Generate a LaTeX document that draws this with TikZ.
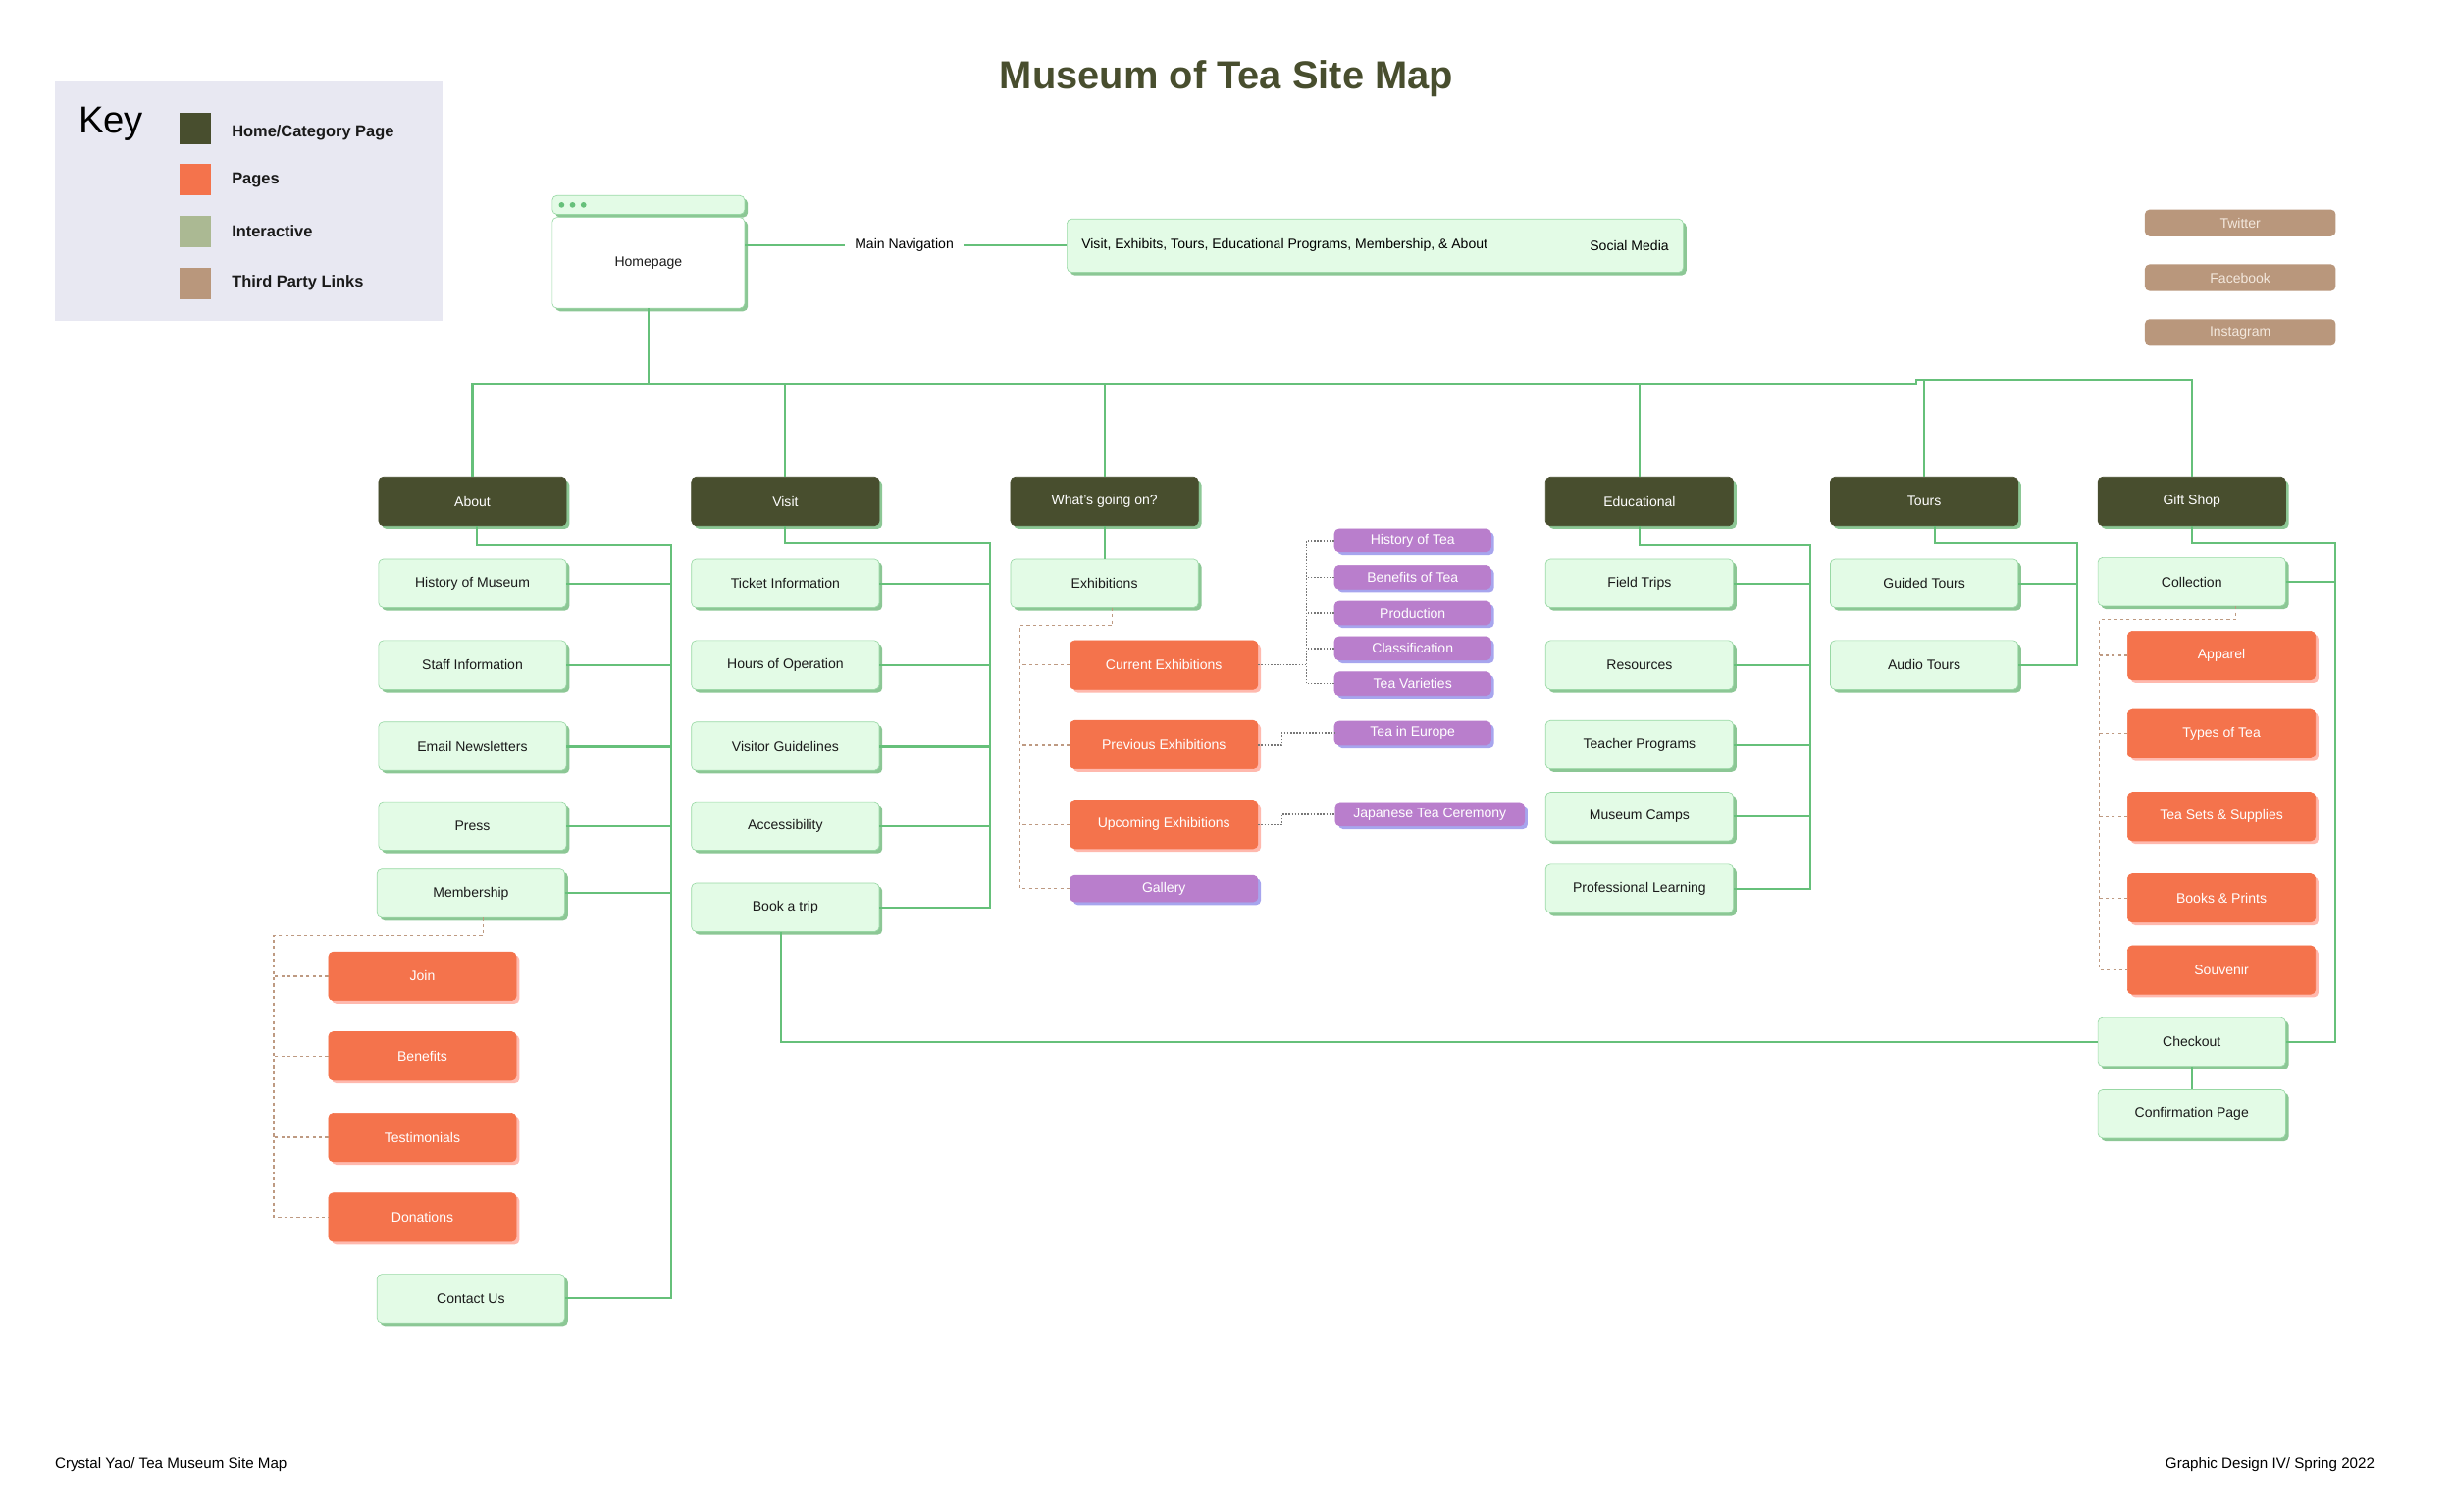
\documentclass[tikz,border=0pt]{standalone}
\usepackage{fontspec}
\setmainfont{Liberation Sans}
\usetikzlibrary{shadows}

\definecolor{catolive}{HTML}{484E2E}
\definecolor{boxfill}{HTML}{E3FBE6}
\definecolor{boxline}{HTML}{98D8A4}
\definecolor{boxshade}{HTML}{8CC795}
\definecolor{subfill}{HTML}{F4734C}
\definecolor{subshade}{HTML}{FFB9AE}
\definecolor{actfill}{HTML}{B97ECC}
\definecolor{actshade}{HTML}{A7A5EE}
\definecolor{extfill}{HTML}{B9977C}
\definecolor{exttext}{HTML}{F3E8DD}
\definecolor{linkgreen}{HTML}{66C07A}
\definecolor{dashbrown}{HTML}{BE9A82}
\definecolor{dotgray}{HTML}{777777}
\definecolor{keybg}{HTML}{E8E8F2}
\definecolor{keyact}{HTML}{ABB993}
\definecolor{inktext}{HTML}{1A1A1A}

\begin{document}
\begin{tikzpicture}[x=1pt,y=-1pt,
  boxbase/.style={rounded corners=3pt,minimum width=120,minimum height=31,inner sep=2pt,
    font=\fontsize{8.8}{10}\selectfont,text=inktext},
  pagebox/.style={boxbase,draw=boxline,fill=boxfill,
    general shadow={fill=boxshade,shadow xshift=2pt,shadow yshift=-2pt}},
  catbox/.style={boxbase,draw=catolive,fill=catolive,text=white,
    general shadow={fill=boxshade,shadow xshift=2pt,shadow yshift=-2pt}},
  subbox/.style={boxbase,draw=subfill,fill=subfill,text=white,
    general shadow={fill=subshade,shadow xshift=2pt,shadow yshift=-2pt}},
  actbox/.style={boxbase,minimum width=100,minimum height=15,draw=actfill,fill=actfill,text=white,
    general shadow={fill=actshade,shadow xshift=2pt,shadow yshift=-2pt}},
  extbox/.style={boxbase,minimum width=122,minimum height=17,fill=extfill,text=exttext},
  keyswatch/.style={minimum width=20,minimum height=20,inner sep=0pt},
  keylabel/.style={anchor=west,inner sep=0pt,font=\bfseries\fontsize{10.3}{12}\selectfont,text=inktext},
  link/.style={draw=linkgreen,line width=1.3pt},
  sublink/.style={draw=dashbrown,line width=0.8pt,dash pattern=on 2pt off 2pt},
  actlink/.style={draw=dotgray,line width=0.8pt,dash pattern=on 1pt off 1pt}]
  \useasboundingbox (0,0) rectangle (1568,966);

  \node[font=\bfseries\fontsize{25}{30}\selectfont,text=catolive] (title) at (784,50) {Museum of Tea Site Map};

  \fill[keybg] (35,52) rectangle (283,205);
  \node[anchor=west,inner sep=0pt,font=\fontsize{24}{28}\selectfont] (keytitle) at (50,79) {Key};
  \node[keyswatch,fill=catolive] (keycat) at (125,82) {};
  \node[keyswatch,fill=subfill] (keysub) at (125,115) {};
  \node[keyswatch,fill=keyact] (keyact) at (125,148) {};
  \node[keyswatch,fill=extfill] (keyext) at (125,181) {};
  \node[keylabel] (keycatlabel) at (148,85) {Home/Category Page};
  \node[keylabel] (keysublabel) at (148,115) {Pages};
  \node[keylabel] (keyactlabel) at (148,148) {Interactive};
  \node[keylabel] (keyextlabel) at (148,181) {Third Party Links};

  \node[boxbase,minimum width=123,minimum height=12,draw=boxline,fill=boxfill,
    general shadow={fill=boxshade,shadow xshift=2pt,shadow yshift=-2pt}] (homebar) at (414.5,131) {};
  \fill[linkgreen] (359,131) circle (1.8);
  \fill[linkgreen] (366,131) circle (1.8);
  \fill[linkgreen] (373,131) circle (1.8);
  \node[pagebox,minimum width=123,minimum height=58,fill=white] (home) at (414.5,168) {Homepage};

  \node[font=\fontsize{8.8}{10}\selectfont,inner sep=6pt] (mainnav) at (578,157) {Main Navigation};
  \node[pagebox,minimum width=394,minimum height=34] (nav) at (879,157) {};
  \node[anchor=west,font=\fontsize{8.8}{10}\selectfont] (navtext) at ([xshift=6pt]nav.west)
       {Visit, Exhibits, Tours, Educational Programs, Membership, \& About};
  \node[anchor=east,font=\fontsize{8.8}{10}\selectfont] (social) at ([xshift=-6pt]nav.east) {Social Media};
  \draw[link] (mainnav -| home.east) -- (mainnav.west);
  \draw[link] (mainnav.east) -- (nav.west);

  \node[extbox] (twitter) at (1432,142.5) {Twitter};
  \node[extbox] (facebook) at (1432,177.5) {Facebook};
  \node[extbox] (instagram) at (1432,212.5) {Instagram};

  \node[catbox] (about) at (302,320.5) {About};
  \node[catbox] (visit) at (502,320.5) {Visit};
  \node[catbox] (whats) at (706,320.5) {What’s going on?};
  \node[catbox] (edu) at (1048,320.5) {Educational};
  \node[catbox] (tours) at (1230,320.5) {Tours};
  \node[catbox] (gift) at (1401,320.5) {Gift Shop};

  \coordinate (bus) at (414.5,245);
  \coordinate (busstep) at (1225,243);
  \draw[link] (home.south) -- (bus);
  \draw[link] (about.north) |- (bus);
  \draw[link] (visit.north) -- (visit.north |- bus);
  \draw[link] (whats.north) -- (whats.north |- bus);
  \draw[link] (bus) -- (bus -| busstep) -- (busstep) -| (gift.north);
  \draw[link] (edu.north) -- (edu.north |- bus);
  \draw[link] (tours.north) -- (tours.north |- busstep);

  \node[pagebox] (amuseum) at (302,373) {History of Museum};
  \node[pagebox] (astaff) at (302,425) {Staff Information};
  \node[pagebox] (anews) at (302,477) {Email Newsletters};
  \node[pagebox] (apress) at (302,528) {Press};
  \node[pagebox] (amember) at (301,571) {Membership};
  \node[pagebox] (acontact) at (301,830) {Contact Us};
  \node[subbox] (mjoin) at (270,624) {Join};
  \node[subbox] (mbenefit) at (270,675) {Benefits};
  \node[subbox] (mtestim) at (270,727) {Testimonials};
  \node[subbox] (mdonate) at (270,778) {Donations};

  \coordinate (abus) at (429,348);
  \draw[link] ([xshift=3pt]about.south) |- (abus) |- (acontact.east);
  \draw[link] (amuseum.east) -- (amuseum.east -| abus);
  \draw[link] (astaff.east) -- (astaff.east -| abus);
  \draw[link] (anews.east) -- (anews.east -| abus);
  \draw[link] (apress.east) -- (apress.east -| abus);
  \draw[link] (amember.east) -- (amember.east -| abus);

  \coordinate (mbus) at (175,598);
  \draw[sublink] ([xshift=8pt]amember.south) |- (mbus) |- (mdonate.west);
  \draw[sublink] (mjoin.west) -- (mjoin.west -| mbus);
  \draw[sublink] (mbenefit.west) -- (mbenefit.west -| mbus);
  \draw[sublink] (mtestim.west) -- (mtestim.west -| mbus);

  \node[pagebox] (vticket) at (502,373) {Ticket Information};
  \node[pagebox] (vhours) at (502,425) {Hours of Operation};
  \node[pagebox] (vguide) at (502,477) {Visitor Guidelines};
  \node[pagebox] (vaccess) at (502,528) {Accessibility};
  \node[pagebox] (vbook) at (502,580) {Book a trip};

  \coordinate (vbus) at (633,347);
  \draw[link] (visit.south) |- (vbus) |- (vbook.east);
  \draw[link] (vticket.east) -- (vticket.east -| vbus);
  \draw[link] (vhours.east) -- (vhours.east -| vbus);
  \draw[link] (vguide.east) -- (vguide.east -| vbus);
  \draw[link] (vaccess.east) -- (vaccess.east -| vbus);

  \node[pagebox] (exhib) at (706,373) {Exhibitions};
  \node[subbox] (ecurrent) at (744,425) {Current Exhibitions};
  \node[subbox] (eprevious) at (744,476) {Previous Exhibitions};
  \node[subbox] (eupcoming) at (744,527) {Upcoming Exhibitions};
  \node[actbox,minimum width=120,minimum height=17] (egallery) at (744,568) {Gallery};
  \draw[link] (whats) -- (exhib);

  \coordinate (ebus) at (652,400);
  \draw[sublink] ([xshift=5pt]exhib.south) |- (ebus) |- (egallery.west);
  \draw[sublink] (ecurrent.west) -- (ecurrent.west -| ebus);
  \draw[sublink] (eprevious.west) -- (eprevious.west -| ebus);
  \draw[sublink] (eupcoming.west) -- (eupcoming.west -| ebus);

  \node[actbox] (thistory) at (903,345.5) {History of Tea};
  \node[actbox] (tbenefit) at (903,369) {Benefits of Tea};
  \node[actbox] (tproduce) at (903,392) {Production};
  \node[actbox] (tclass) at (903,414.5) {Classification};
  \node[actbox] (tvariety) at (903,437) {Tea Varieties};
  \node[actbox] (teurope) at (903,468.5) {Tea in Europe};
  \node[actbox,minimum width=121] (tjapan) at (914,520.5) {Japanese Tea Ceremony};

  \coordinate (tbus) at (835,425);
  \draw[actlink] (ecurrent.east) -- (tbus);
  \draw[actlink] (thistory.west) -| (tbus);
  \draw[actlink] (tvariety.west) -| (tbus);
  \draw[actlink] (tbenefit.west) -- (tbenefit.west -| tbus);
  \draw[actlink] (tproduce.west) -- (tproduce.west -| tbus);
  \draw[actlink] (tclass.west) -- (tclass.west -| tbus);
  \draw[actlink] (eprevious.east) -- ++(15,0) |- (teurope.west);
  \draw[actlink] (eupcoming.east) -- ++(15,0) |- (tjapan.west);

  \node[pagebox] (dfield) at (1048,373) {Field Trips};
  \node[pagebox] (dresource) at (1048,425) {Resources};
  \node[pagebox] (dteacher) at (1048,476) {Teacher Programs};
  \node[pagebox] (dcamp) at (1048,522) {Museum Camps};
  \node[pagebox] (dlearn) at (1048,568) {Professional Learning};

  \coordinate (dbus) at (1157,348);
  \draw[link] (edu.south) |- (dbus) |- (dlearn.east);
  \draw[link] (dfield.east) -- (dfield.east -| dbus);
  \draw[link] (dresource.east) -- (dresource.east -| dbus);
  \draw[link] (dteacher.east) -- (dteacher.east -| dbus);
  \draw[link] (dcamp.east) -- (dcamp.east -| dbus);

  \node[pagebox] (guided) at (1230,373) {Guided Tours};
  \node[pagebox] (audio) at (1230,425) {Audio Tours};

  \coordinate (rbus) at (1328,347);
  \draw[link] ([xshift=7pt]tours.south) |- (rbus) |- (audio.east);
  \draw[link] (guided.east) -- (guided.east -| rbus);

  \node[pagebox] (collect) at (1401,372) {Collection};
  \node[subbox] (capparel) at (1420,419) {Apparel};
  \node[subbox] (ctypes) at (1420,469) {Types of Tea};
  \node[subbox] (csets) at (1420,522) {Tea Sets \& Supplies};
  \node[subbox] (cbooks) at (1420,574) {Books \& Prints};
  \node[subbox] (csouvenir) at (1420,620) {Souvenir};
  \node[pagebox] (checkout) at (1401,666) {Checkout};
  \node[pagebox] (confirm) at (1401,712) {Confirmation Page};

  \coordinate (gbus) at (1493,347);
  \draw[link] (gift.south) |- (gbus) |- (checkout.east);
  \draw[link] (collect.east) -- (collect.east -| gbus);
  \draw[link] (checkout) -- (confirm);
  \draw[link] ([xshift=-3pt]vbook.south) |- (checkout.west);

  \coordinate (cbus) at (1342,396);
  \draw[sublink] ([xshift=28pt]collect.south) |- (cbus) |- (csouvenir.west);
  \draw[sublink] (capparel.west) -- (capparel.west -| cbus);
  \draw[sublink] (ctypes.west) -- (ctypes.west -| cbus);
  \draw[sublink] (csets.west) -- (csets.west -| cbus);
  \draw[sublink] (cbooks.west) -- (cbooks.west -| cbus);

  \node[anchor=west,inner sep=0pt,font=\fontsize{9.5}{11}\selectfont] (credit) at (35,936)
       {Crystal Yao/ Tea Museum Site Map};
  \node[anchor=east,inner sep=0pt,font=\fontsize{9.5}{11}\selectfont] (course) at (1518,936)
       {Graphic Design IV/ Spring 2022};
\end{tikzpicture}
\end{document}
